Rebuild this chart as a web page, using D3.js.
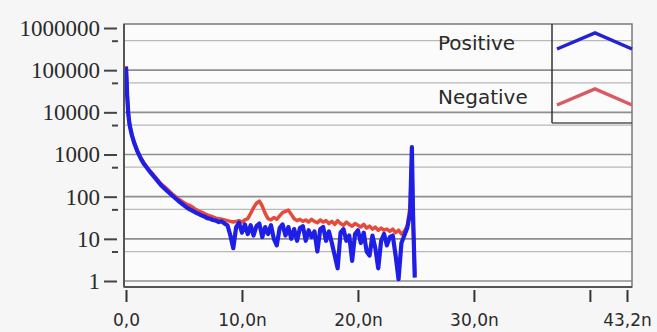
<!DOCTYPE html>
<html>
<head>
<meta charset="utf-8">
<script src="https://cdn.jsdelivr.net/npm/d3@7"></script>
<style>
  html, body { margin: 0; padding: 0; background: #f6f6f6; }
  svg { display: block; }
</style>
</head>
<body>
<svg id="chart" width="657" height="332"></svg>
<script>
// Sample times (ns) shared by both traces
const timeNs = [
  0, 0.05, 0.1, 0.2, 0.3, 0.5, 0.7, 1.0, 1.3, 1.6, 2.0, 2.5, 3.0, 3.5, 4.0, 4.5, 5.0,
  5.25, 5.5, 5.75, 6.0, 6.25, 6.5, 6.75, 7.0, 7.25, 7.5, 7.75, 8.0, 8.25, 8.5, 8.75, 9.0, 9.25, 9.5, 9.75, 10.0,
  10.25, 10.5, 10.75, 11.0, 11.25, 11.5, 11.75, 12.0, 12.25, 12.5, 12.75, 13.0, 13.25, 13.5, 13.75, 14.0, 14.25, 14.5, 14.75, 15.0,
  15.25, 15.5, 15.75, 16.0, 16.25, 16.5, 16.75, 17.0, 17.25, 17.5, 17.75, 18.0, 18.25, 18.5, 18.75, 19.0, 19.25, 19.5, 19.75, 20.0,
  20.25, 20.5, 20.75, 21.0, 21.25, 21.5, 21.75, 22.0, 22.25, 22.5, 22.75, 23.0, 23.25, 23.5, 23.75, 24.0, 24.25,
  24.5, 24.65, 24.75, 24.9
];

const positiveValues = [
  120000, 60000, 25000, 9000, 5200, 2900, 1900, 1150, 780, 570, 410, 280, 190, 140, 105, 80, 62,
  55, 50, 46, 42, 39, 36, 34, 31, 30, 28, 27, 25, 26, 23, 21, 12, 6, 19, 24, 14,
  22, 13, 21, 12, 20, 23, 11, 19, 13, 21, 10, 7, 18, 22, 12, 19, 10, 17, 9, 18,
  20, 9, 16, 11, 15, 5, 17, 19, 9, 15, 8, 4, 2, 14, 17, 9, 12, 3, 13, 16,
  8, 14, 5, 4, 12, 6, 2, 9, 13, 7, 11, 12, 4, 1.1, 8, 12, 18,
  40, 1500, 40, 1.2
];

const negativeValues = [
  125000, 62000, 26000, 9400, 5400, 3000, 2000, 1200, 820, 600, 430, 300, 205, 155, 115, 90, 72,
  66, 62, 56, 50, 46, 43, 40, 37, 35, 33, 31, 30, 29, 28, 27, 26, 25, 26, 27, 25,
  28, 30, 40, 55, 70, 78, 60, 40, 30, 28, 32, 29, 35, 42, 45, 48, 38, 30, 27, 29,
  26, 28, 25, 29, 26, 24, 28, 25, 27, 23, 26, 22, 27, 23, 21, 25, 22, 20, 23, 21,
  19, 22, 18, 20, 17, 19, 16, 18, 16, 17, 15, 17, 14, 16, 13, 15, 20,
  60, 900, 30, 1.5
];

const yTickValues = [1, 10, 100, 1000, 10000, 100000, 1000000];
const yTickLabels = ["1", "10", "100", "1000", "10000", "100000", "1000000"];
const yMinorValues = [5, 50, 500, 5000, 50000, 500000];
const xTickValues = [0, 10, 20, 30, 40, 43.2];
const xTickLabels = ["0,0", "10,0n", "20,0n", "30,0n", "", "43,2n"];
const seriesNames = ["Positive", "Negative"];
const seriesColors = ["#1e1ee6", "#e64a3c"];
const legendColors = ["#2222d2", "#da5a64"];

const svg = d3.select("#chart");
const plot = { left: 124, right: 632, top: 24, bottom: 287 };

const x = d3.scaleLinear().domain([0, 43.2]).range([126, 627]);
const y = d3.scaleLog().domain([1, 1000000]).range([281, 28]);

// plot background
svg.append("rect")
  .attr("x", plot.left).attr("y", plot.top)
  .attr("width", plot.right - plot.left).attr("height", plot.bottom - plot.top)
  .attr("fill", "#fbfbfb");

// horizontal grid: decades and half-decades
const grid = svg.append("g");
grid.selectAll("line.minor").data(yMinorValues).join("line")
  .attr("class", "minor")
  .attr("x1", plot.left).attr("x2", plot.right)
  .attr("y1", d => y(d)).attr("y2", d => y(d))
  .attr("stroke", "#b9b9b9").attr("stroke-width", 1.2);
grid.selectAll("line.major").data(yTickValues.filter(v => v < 1000000)).join("line")
  .attr("class", "major")
  .attr("x1", plot.left).attr("x2", plot.right)
  .attr("y1", d => y(d)).attr("y2", d => y(d))
  .attr("stroke", "#8e8e8e").attr("stroke-width", 1.6);

// traces
svg.append("defs").append("clipPath").attr("id", "plotClip")
  .append("rect")
  .attr("x", plot.left).attr("y", plot.top)
  .attr("width", plot.right - plot.left).attr("height", plot.bottom - plot.top);

const line = d3.line()
  .x(d => x(d[0]))
  .y(d => y(d[1]));

const traces = [positiveValues, negativeValues];
const traceWidths = [4.2, 3.5];
const traceGroup = svg.append("g").attr("clip-path", "url(#plotClip)");
[1, 0].forEach(i => {
  traceGroup.append("path")
    .datum(timeNs.map((t, k) => [t, traces[i][k]]))
    .attr("d", line)
    .attr("fill", "none")
    .attr("stroke", seriesColors[i])
    .attr("stroke-width", traceWidths[i])
    .attr("stroke-linejoin", "round");
});

// frame
svg.append("rect")
  .attr("x", plot.left).attr("y", plot.top)
  .attr("width", plot.right - plot.left).attr("height", plot.bottom - plot.top)
  .attr("fill", "none").attr("stroke", "#7a7a7a").attr("stroke-width", 1.5);
svg.append("line")
  .attr("x1", plot.left).attr("x2", plot.left).attr("y1", plot.top).attr("y2", plot.bottom)
  .attr("stroke", "#555").attr("stroke-width", 2);
svg.append("line")
  .attr("x1", plot.left).attr("x2", plot.right).attr("y1", plot.bottom).attr("y2", plot.bottom)
  .attr("stroke", "#555").attr("stroke-width", 2);

// y axis (ticks detached from the frame)
const yAxis = svg.append("g")
  .attr("transform", "translate(117,0)")
  .call(d3.axisLeft(y).tickValues(yTickValues)
    .tickFormat((d, i) => yTickLabels[i]).tickSize(13).tickPadding(4));
yAxis.select(".domain").remove();
yAxis.selectAll(".tick line").attr("stroke", "#444").attr("stroke-width", 2);
yAxis.selectAll(".tick text")
  .attr("fill", "#2a2a2a")
  .style("font-family", "'Liberation Serif', 'DejaVu Serif', serif")
  .style("font-size", "23px");

const yMinor = svg.append("g")
  .attr("transform", "translate(118,0)")
  .call(d3.axisLeft(y).tickValues(yMinorValues).tickFormat("").tickSize(6));
yMinor.select(".domain").remove();
yMinor.selectAll(".tick line").attr("stroke", "#444").attr("stroke-width", 2);

// x axis
const xAxis = svg.append("g")
  .attr("transform", "translate(0,290)")
  .call(d3.axisBottom(x).tickValues(xTickValues)
    .tickFormat((d, i) => xTickLabels[i]).tickSize(12).tickPadding(12));
xAxis.select(".domain").remove();
xAxis.selectAll(".tick line").attr("stroke", "#333").attr("stroke-width", 2);
xAxis.selectAll(".tick text")
  .attr("fill", "#2a2a2a")
  .style("font-family", "'DejaVu Sans', Verdana, sans-serif")
  .style("font-size", "17px");

// legend
const legend = svg.append("g");
legend.append("line")
  .attr("x1", 552).attr("x2", 552).attr("y1", plot.top).attr("y2", 123)
  .attr("stroke", "#333").attr("stroke-width", 1.5);
legend.append("line")
  .attr("x1", 552).attr("x2", plot.right).attr("y1", 123).attr("y2", 123)
  .attr("stroke", "#555").attr("stroke-width", 1.5);
const legendRows = [{ base: 49, peak: 33, text: 50 }, { base: 105, peak: 89, text: 104 }];
seriesNames.forEach((name, i) => {
  const r = legendRows[i];
  legend.append("text")
    .attr("x", 438).attr("y", r.text)
    .attr("fill", "#2a2a2a")
    .style("font-family", "'DejaVu Sans', Verdana, sans-serif")
    .style("font-size", "20px")
    .text(name);
  legend.append("path")
    .attr("d", d3.line()([[557, r.base], [595, r.peak], [632, r.base]]))
    .attr("fill", "none")
    .attr("stroke", legendColors[i])
    .attr("stroke-width", 3.5);
});
</script>
</body>
</html>
